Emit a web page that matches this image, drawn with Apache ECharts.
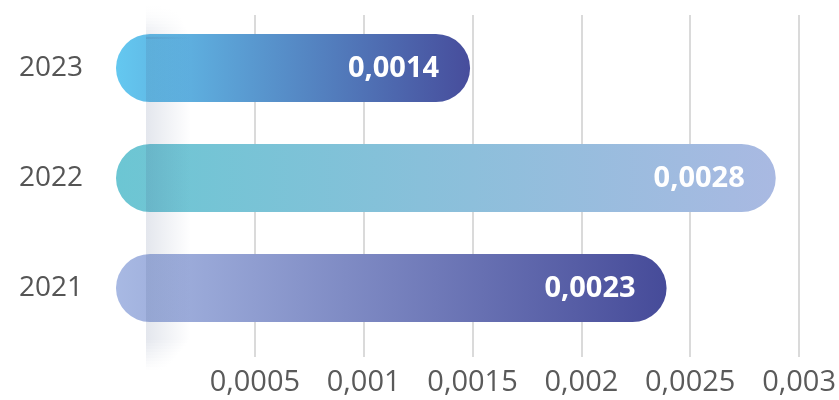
<!DOCTYPE html>
<html><head><meta charset="utf-8">
<script src="https://cdn.jsdelivr.net/npm/echarts@6/dist/echarts.min.js"></script>
<style>html,body{margin:0;padding:0;background:#fff}#c{width:839px;height:400px}</style>
</head><body><div id="c"></div>
<script>
const years = ['2021', '2022', '2023'];
const values = [0.0023, 0.0028, 0.0014];
const tickValues = [0.0005, 0.001, 0.0015, 0.002, 0.0025, 0.003];
const axisMin = 0;
const axisMax = 0.003;
const axisInterval = 0.0005;

const barColors = [['#A8B9E3', '#464B99'], ['#6CC6D3', '#A9B9E2'], ['#64C8F0', '#474D9C']];
const FONT = '"Open Sans", sans-serif';
const fmt = v => String(+(+v).toFixed(6)).replace('.', ',');

const chart = echarts.init(document.getElementById('c'), null, {renderer: 'canvas'});

chart.setOption({
  animation: false,
  backgroundColor: '#ffffff',
  grid: [
    {left: 146, right: 38, top: 15, bottom: 43},
    {left: 146, right: 38, top: 13, bottom: 57}
  ],
  xAxis: [
    {
      gridIndex: 0, type: 'value', min: axisMin, max: axisMax, interval: axisInterval,
      axisLine: {show: false}, axisTick: {show: false},
      splitLine: {show: true, showMinLine: false, lineStyle: {color: '#dadada', width: 2}},
      axisLabel: {
        margin: 11, fontSize: 29, color: '#5a5a5a', fontFamily: FONT,
        formatter: v => tickValues.some(t => Math.abs(t - v) < 1e-9) ? fmt(v) : ''
      }
    },
    {gridIndex: 1, type: 'value', min: axisMin, max: axisMax, show: false}
  ],
  yAxis: [
    {gridIndex: 0, type: 'value', min: 0, max: 1, show: false},
    {
      gridIndex: 1, type: 'category', data: years,
      axisLine: {show: false}, axisTick: {show: false}, splitLine: {show: false},
      axisLabel: {margin: 63, fontSize: 28, color: '#555555', fontFamily: FONT}
    }
  ],
  series: [
    {
      type: 'custom', xAxisIndex: 1, yAxisIndex: 1, z: 2, clip: false,
      data: values.map((v, i) => [v, i]),
      renderItem: (params, api) => {
        const v = api.value(0), idx = api.value(1);
        const start = api.coord([0, idx]);
        const end = api.coord([v, idx]);
        const h = api.size([0, 1])[1] * 0.62;
        const x0 = start[0] - h * 0.44;
        const x1 = end[0] + h * 0.27;
        const c = barColors[idx];
        return {
          type: 'group',
          children: [
            {
              type: 'rect',
              shape: {x: x0, y: start[1] - h / 2, width: x1 - x0, height: h, r: h / 2},
              style: {fill: new echarts.graphic.LinearGradient(0, 0, 1, 0, [
                {offset: 0, color: c[0]}, {offset: 1, color: c[1]}])}
            },
            {
              type: 'text',
              style: {
                x: x1 - 31, y: start[1] + 1, text: fmt(v), align: 'right', verticalAlign: 'middle',
                fill: '#ffffff', fontSize: 29, fontWeight: 'bold', fontFamily: FONT
              }
            }
          ]
        };
      }
    },
    {
      type: 'custom', xAxisIndex: 0, yAxisIndex: 0, z: 5, clip: false, silent: true,
      data: [[0, 0]],
      renderItem: (params, api) => {
        const x = api.coord([api.value(0), 0])[0];
        const cs = params.coordSys;
        const maxA = 0.15;
        const grad = (a, w) => new echarts.graphic.LinearGradient(0, 0, 1, 0, [
          {offset: 0, color: 'rgba(70,90,135,' + a.toFixed(3) + ')'},
          {offset: 1, color: 'rgba(70,90,135,0)'}]);
        const children = [];
        const topStart = cs.y - 15, topEnd = cs.y + 22;
        const botStart = cs.y + cs.height - 20, botEnd = cs.y + cs.height + 12;
        const step = 3;
        for (let y = topStart; y < topEnd; y += step) {
          const t = (y - topStart) / (topEnd - topStart);
          children.push({type: 'rect', shape: {x: x, y: y, width: 30 + 15 * t, height: step},
            style: {fill: grad(maxA * t * t)}});
        }
        children.push({type: 'rect', shape: {x: x, y: topEnd, width: 45, height: botStart - topEnd},
          style: {fill: grad(maxA)}});
        for (let y = botStart; y < botEnd; y += step) {
          const t = 1 - (y - botStart) / (botEnd - botStart);
          children.push({type: 'rect', shape: {x: x, y: y, width: 20 + 25 * t, height: step},
            style: {fill: grad(maxA * t)}});
        }
        return {type: 'group', children: children};
      }
    }
  ]
});
</script>
</body></html>
